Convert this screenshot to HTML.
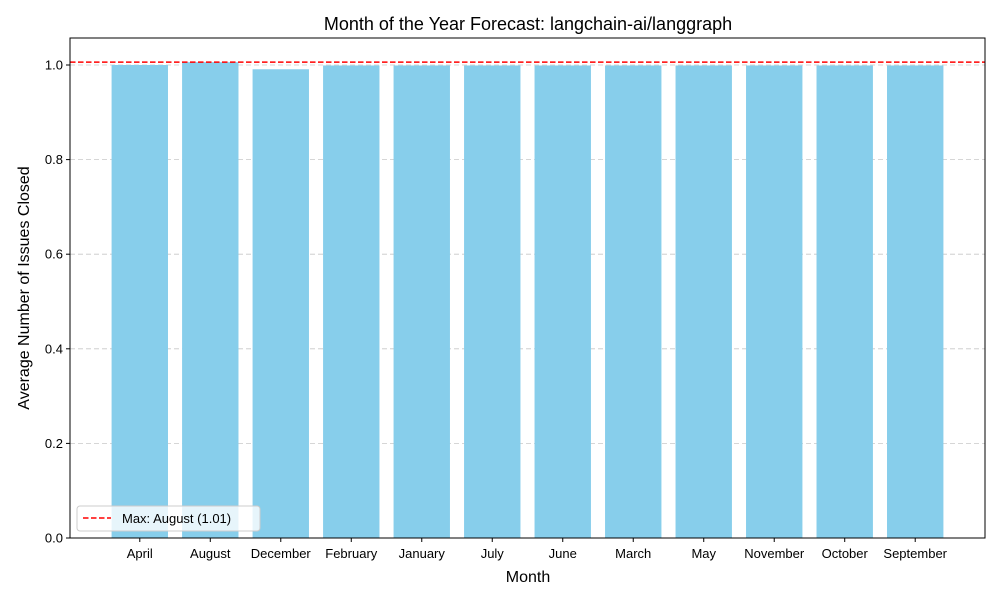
<!DOCTYPE html>
<html><head><meta charset="utf-8"><style>
body{margin:0;background:#fff;font-family:"Liberation Sans","DejaVu Sans",sans-serif}
</style></head><body>
<svg id="chart" width="1000" height="600" xmlns="http://www.w3.org/2000/svg">
<rect width="1000" height="600" fill="#fff"/>
<text x="528" y="30" text-anchor="middle" font-size="18">Month of the Year Forecast: langchain-ai/langgraph</text>
<g id="grid"></g><g id="bars"></g><g id="xt"></g><g id="yt"></g>
<rect x="70" y="38" width="915" height="500" fill="none" stroke="#000" stroke-width="1"/>
<text x="528" y="582" text-anchor="middle" font-size="16">Month</text>
<text transform="translate(29,288) rotate(-90)" text-anchor="middle" font-size="16">Average Number of Issues Closed</text>
<g id="legend">
<rect x="77" y="506" width="183" height="25" rx="3" fill="#fff" fill-opacity="0.8" stroke="#ccc"/>
<line x1="83" y1="518" x2="111" y2="518" stroke="red" stroke-width="1.5" stroke-dasharray="5.5,2.5"/>
<text x="122" y="523" font-size="13">Max: August (1.01)</text>
</g>
</svg>
<script>
const categories=["April","August","December","February","January","July","June","March","May","November","October","September"];
const values=[1.0,1.006,0.991,0.999,0.999,0.999,0.999,0.999,0.999,0.999,0.999,0.999];
const yTicks=[0,0.2,0.4,0.6,0.8,1.0];
const NS="http://www.w3.org/2000/svg";
const L=70,R=985,T=38,B=538;
const xmin=-0.99,xmax=categories.length-1+0.99;
const X=i=>L+(i-xmin)/(xmax-xmin)*(R-L);
const Y=v=>B-v/1.0*473;
const step=(R-L)/(xmax-xmin);
function mk(t,a,p){const e=document.createElementNS(NS,t);for(const k in a)e.setAttribute(k,a[k]);p.appendChild(e);return e;}
const g=document.getElementById('grid'),bg=document.getElementById('bars'),xt=document.getElementById('xt'),yt=document.getElementById('yt');
yTicks.forEach(v=>{
 const y=Y(v);
 if(v>0){const gl=mk('line',{x1:L,x2:R,y1:y,y2:y,stroke:'#c8c8c8','stroke-dasharray':'5,3','stroke-width':0.8},g);
 
 }
 mk('line',{x1:L-4,x2:L,y1:y,y2:y,stroke:'#000'},yt);
 const t=mk('text',{x:L-7,y:y+4.5,'text-anchor':'end','font-size':13},yt);t.textContent=v.toFixed(1);
 
 
});
categories.forEach((c,i)=>{
 const x=X(i),w=step*0.8;
 const r=mk('rect',{x:x-w/2,y:Y(values[i]),width:w,height:B-Y(values[i]),fill:'#87ceeb'},bg);
 
 
 mk('line',{x1:x,x2:x,y1:B,y2:B+4,stroke:'#000'},xt);
 const t=mk('text',{x:x,y:B+20,'text-anchor':'middle','font-size':13},xt);t.textContent=c;
 
 
});
const mx=Math.max(...values);
const ml=mk('line',{x1:L,x2:R,y1:Y(mx),y2:Y(mx),stroke:'red','stroke-width':1.5,'stroke-dasharray':'5.5,2.5'},bg);


</script>
</body></html>
